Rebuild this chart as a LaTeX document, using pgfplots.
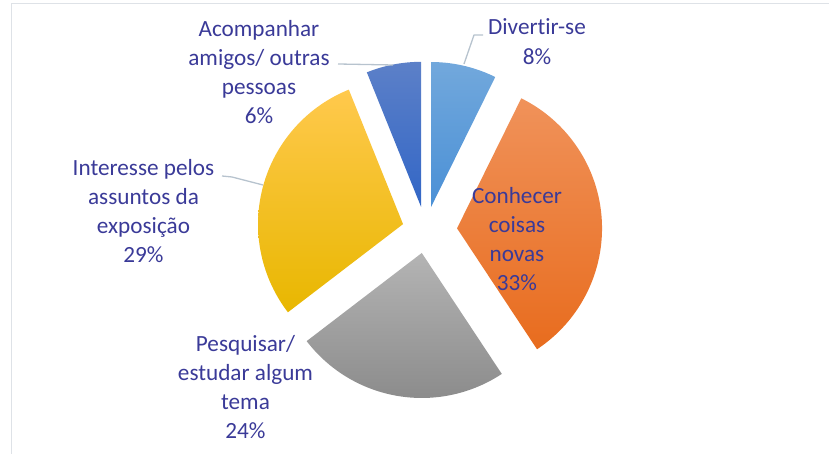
\documentclass[border=0pt]{standalone}
\usepackage{pgfplots}
\usepackage{pgfplotstable}
\pgfplotsset{compat=1.18}
\usepackage{fontspec}
\setmainfont{Carlito}[Ligatures=NoCommon]
\definecolor{txt}{RGB}{58,58,152}
\definecolor{lead}{RGB}{183,195,206}
\definecolor{frame}{RGB}{222,226,231}
\definecolor{bluT}{RGB}{114,168,220}
\definecolor{bluB}{RGB}{74,144,214}
\definecolor{oraT}{RGB}{240,146,90}
\definecolor{oraB}{RGB}{232,108,30}
\definecolor{graT}{RGB}{180,180,180}
\definecolor{graB}{RGB}{140,140,140}
\definecolor{yelT}{RGB}{255,201,77}
\definecolor{yelM}{RGB}{255,196,0}
\definecolor{yelB}{RGB}{232,183,0}
\definecolor{dbT}{RGB}{92,128,200}
\definecolor{dbB}{RGB}{50,102,198}
\tikzset{lbl/.style={font=\fontsize{23.2}{29}\selectfont, text=txt, anchor=base, inner sep=0pt}}

% slice value (percent of the full circle, as drawn) and explode distance (px)
\pgfplotstableread{
id val d
1 7.3 23.9
2 33.4 31.5
3 23.9 23.0
4 29.3 23.4
5 6.1 23.9
}\pietable

\def\cx{425.6}
\def\cy{223.7}
\def\R{145}
\gdef\cum{0}
\newcommand\computeslice[2]{%
  \pgfplotstablegetelem{#1}{val}\of\pietable\let\v\pgfplotsretval
  \pgfplotstablegetelem{#1}{d}\of\pietable\let\dd\pgfplotsretval
  \pgfmathsetmacro\s{90-3.6*\cum}%
  \pgfmathsetmacro\e{\s-3.6*\v}%
  \pgfmathsetmacro\m{(\s+\e)/2}%
  \pgfmathsetmacro\ax{\cx+\dd*cos(\m)}%
  \pgfmathsetmacro\ay{\cy+\dd*sin(\m)}%
  \expandafter\xdef\csname s#2\endcsname{\s}%
  \expandafter\xdef\csname e#2\endcsname{\e}%
  \expandafter\xdef\csname ax#2\endcsname{\ax}%
  \expandafter\xdef\csname ay#2\endcsname{\ay}%
  \pgfmathsetmacro\c{\cum+\v}%
  \xdef\cum{\c}%
}

\begin{document}
\computeslice{0}{A}%
\computeslice{1}{B}%
\computeslice{2}{C}%
\computeslice{3}{D}%
\computeslice{4}{E}%
\begin{tikzpicture}
\begin{axis}[
  scale only axis, width=829pt, height=454pt,
  xmin=0, xmax=829, ymin=0, ymax=454,
  hide axis, clip=false,
  every axis plot/.append style={line join=round},
]
% frame of the chart area
\addplot[frame, line width=1.5pt] coordinates {(11.5,0) (11.5,450.5) (829,450.5)};

% slices
\addplot[draw=none, top color=bluT, bottom color=bluB, domain=\eA:\sA, samples=60, variable=\t]
  ({\axA+\R*cos(\t)}, {\ayA+\R*sin(\t)}) -- (axis cs:\axA,\ayA) -- cycle;
\addplot[draw=none, top color=oraT, bottom color=oraB, domain=\eB:\sB, samples=100, variable=\t]
  ({\axB+\R*cos(\t)}, {\ayB+\R*sin(\t)}) -- (axis cs:\axB,\ayB) -- cycle;
\addplot[draw=none, top color=graT, bottom color=graB, domain=\eC:\sC, samples=80, variable=\t]
  ({\axC+\R*cos(\t)}, {\ayC+\R*sin(\t)}) -- (axis cs:\axC,\ayC) -- cycle;
\addplot[draw=none, top color=yelT, middle color=yelM, bottom color=yelB, domain=\eD:\sD, samples=90, variable=\t]
  ({\axD+\R*cos(\t)}, {\ayD+\R*sin(\t)}) -- (axis cs:\axD,\ayD) -- cycle;
\addplot[draw=none, top color=dbT, bottom color=dbB, domain=\eE:\sE, samples=40, variable=\t]
  ({\axE+\R*cos(\t)}, {\ayE+\R*sin(\t)}) -- (axis cs:\axE,\ayE) -- cycle;

% leader lines
\addplot[lead, line width=1.3pt] coordinates {(483,419) (474,419) (464,390)};
\addplot[lead, line width=1.3pt] coordinates {(338,390) (393,389)};
\addplot[lead, line width=1.3pt] coordinates {(222,278) (232,277) (263,269)};

% labels
\node[lbl] at (axis cs:537,419) {Divertir-se};
\node[lbl] at (axis cs:537,389) {8\%};

\node[lbl] at (axis cs:259,417) {Acompanhar};
\node[lbl] at (axis cs:259,388) {amigos/ outras};
\node[lbl] at (axis cs:259,359) {pessoas};
\node[lbl] at (axis cs:259,330) {6\%};

\node[lbl] at (axis cs:143.5,278) {Interesse pelos};
\node[lbl] at (axis cs:143.5,249) {assuntos da};
\node[lbl] at (axis cs:143.5,220) {exposição};
\node[lbl] at (axis cs:143.5,191) {29\%};

\node[lbl] at (axis cs:245.5,102) {Pesquisar/};
\node[lbl] at (axis cs:245.5,73) {estudar algum};
\node[lbl] at (axis cs:245.5,44) {tema};
\node[lbl] at (axis cs:245.5,15) {24\%};

\node[lbl] at (axis cs:517,250) {Conhecer};
\node[lbl] at (axis cs:517,221) {coisas};
\node[lbl] at (axis cs:517,192) {novas};
\node[lbl] at (axis cs:517,163) {33\%};
\end{axis}
\pgfresetboundingbox
\path (current axis.south west) rectangle (current axis.north east);
\end{tikzpicture}
\end{document}
